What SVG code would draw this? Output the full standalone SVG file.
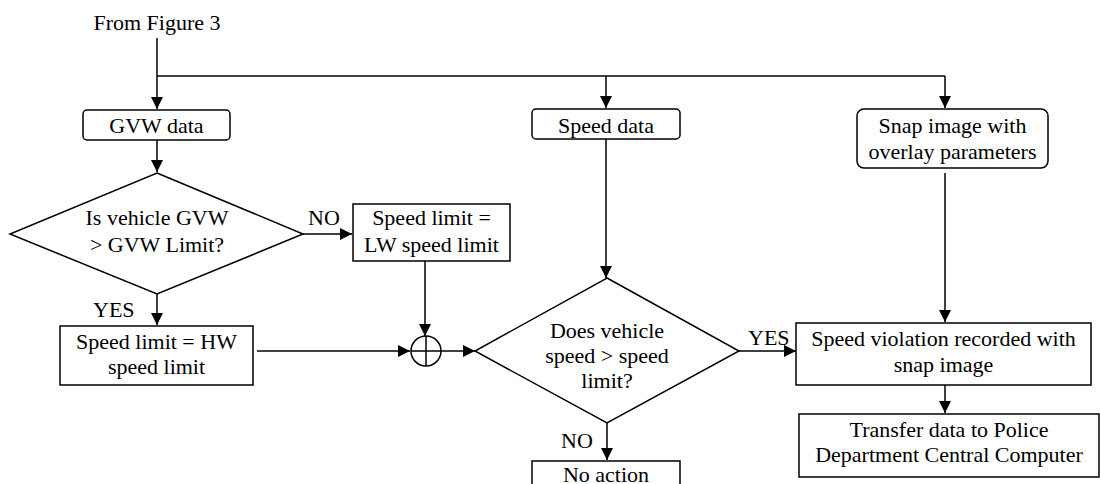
<svg xmlns="http://www.w3.org/2000/svg" width="1100" height="484" viewBox="0 0 1100 484" font-family="'Liberation Serif', 'Times New Roman', Tinos, 'Nimbus Roman', 'DejaVu Serif', serif">
  <style>
    .box { fill: #fff; stroke: #000; stroke-width: 1.5; }
    .ln { fill: none; stroke: #000; stroke-width: 1.5; }
    .arr { fill: none; stroke: #000; stroke-width: 1.5; marker-end: url(#head); }
    .t { font-family: 'Liberation Serif', 'Times New Roman', Tinos, 'DejaVu Serif', serif; font-size: 22px; fill: #000; }
    .c { text-anchor: middle; }
  </style>
  <defs>
    <marker id="head" markerUnits="userSpaceOnUse" markerWidth="12" markerHeight="12" refX="12" refY="6" orient="auto">
      <path d="M0,0 L12,6 L0,12 z" fill="#000"/>
    </marker>
  </defs>
  <rect width="1100" height="484" fill="#fff"/>

  <!-- connectors -->
  <g id="connectors">
    <path class="arr" d="M157,38 V109"/>
    <path class="ln" d="M157,76 H945"/>
    <path class="arr" d="M606,76 V108"/>
    <path class="arr" d="M945,76 V108"/>
    <path class="arr" d="M157,140 V172"/>
    <path class="arr" d="M303,234 H352"/>
    <path class="arr" d="M157,294 V325"/>
    <path class="arr" d="M425,261 V336"/>
    <path class="arr" d="M257,351 H410"/>
    <path class="arr" d="M441,351 H475"/>
    <path class="arr" d="M606,139 V278"/>
    <path class="arr" d="M607,423 V460"/>
    <path class="arr" d="M739,351 H796"/>
    <path class="arr" d="M945,173 V322"/>
    <path class="arr" d="M945,385 V413"/>
    <text class="t" x="93" y="317">YES</text>
    <text class="t" x="308" y="225">NO</text>
    <text class="t" x="561" y="448">NO</text>
    <text class="t" x="748" y="345">YES</text>
  </g>

  <text class="t c" x="157" y="30">From Figure 3</text>

  <g id="gvw-data">
    <rect class="box" x="83" y="110" width="147" height="30" rx="4"/>
    <text class="t c" x="156.5" y="133">GVW data</text>
  </g>

  <g id="gvw-check">
    <polygon class="box" points="157,173 303,234 157,294 10,234"/>
    <text class="t c" x="157" y="225">Is vehicle GVW</text>
    <text class="t c" x="157" y="252">&gt; GVW Limit?</text>
  </g>

  <g id="lw-limit">
    <rect class="box" x="353" y="204" width="157" height="57"/>
    <text class="t c" x="431.5" y="225">Speed limit =</text>
    <text class="t c" x="431.5" y="252">LW speed limit</text>
  </g>

  <g id="hw-limit">
    <rect class="box" x="60" y="326" width="193" height="59"/>
    <text class="t c" x="156.5" y="349">Speed limit = HW</text>
    <text class="t c" x="156.5" y="374">speed limit</text>
  </g>

  <g id="merge">
    <circle class="box" cx="426" cy="351" r="15"/>
    <path class="ln" d="M426,336 V366 M411,351 H441"/>
  </g>

  <g id="speed-data">
    <rect class="box" x="532" y="109" width="148" height="30" rx="4"/>
    <text class="t c" x="606" y="133">Speed data</text>
  </g>

  <g id="speed-check">
    <polygon class="box" points="607,278 739,351 607,423 475,351"/>
    <text class="t c" x="607" y="338">Does vehicle</text>
    <text class="t c" x="607" y="363">speed &gt; speed</text>
    <text class="t c" x="607" y="388">limit?</text>
  </g>

  <g id="no-action">
    <rect class="box" x="532" y="461" width="148" height="40"/>
    <text class="t c" x="606" y="482">No action</text>
  </g>

  <g id="snap-image">
    <rect class="box" x="857" y="109" width="191" height="59" rx="7"/>
    <text class="t c" x="952.5" y="133">Snap image with</text>
    <text class="t c" x="952.5" y="159">overlay parameters</text>
  </g>

  <g id="violation">
    <rect class="box" x="796" y="323" width="295" height="62"/>
    <text class="t c" x="943.5" y="346">Speed violation recorded with</text>
    <text class="t c" x="943.5" y="372">snap image</text>
  </g>

  <g id="transfer">
    <rect class="box" x="799" y="414" width="300" height="63"/>
    <text class="t c" x="949" y="437">Transfer data to Police</text>
    <text class="t c" x="949" y="462">Department Central Computer</text>
  </g>
</svg>
